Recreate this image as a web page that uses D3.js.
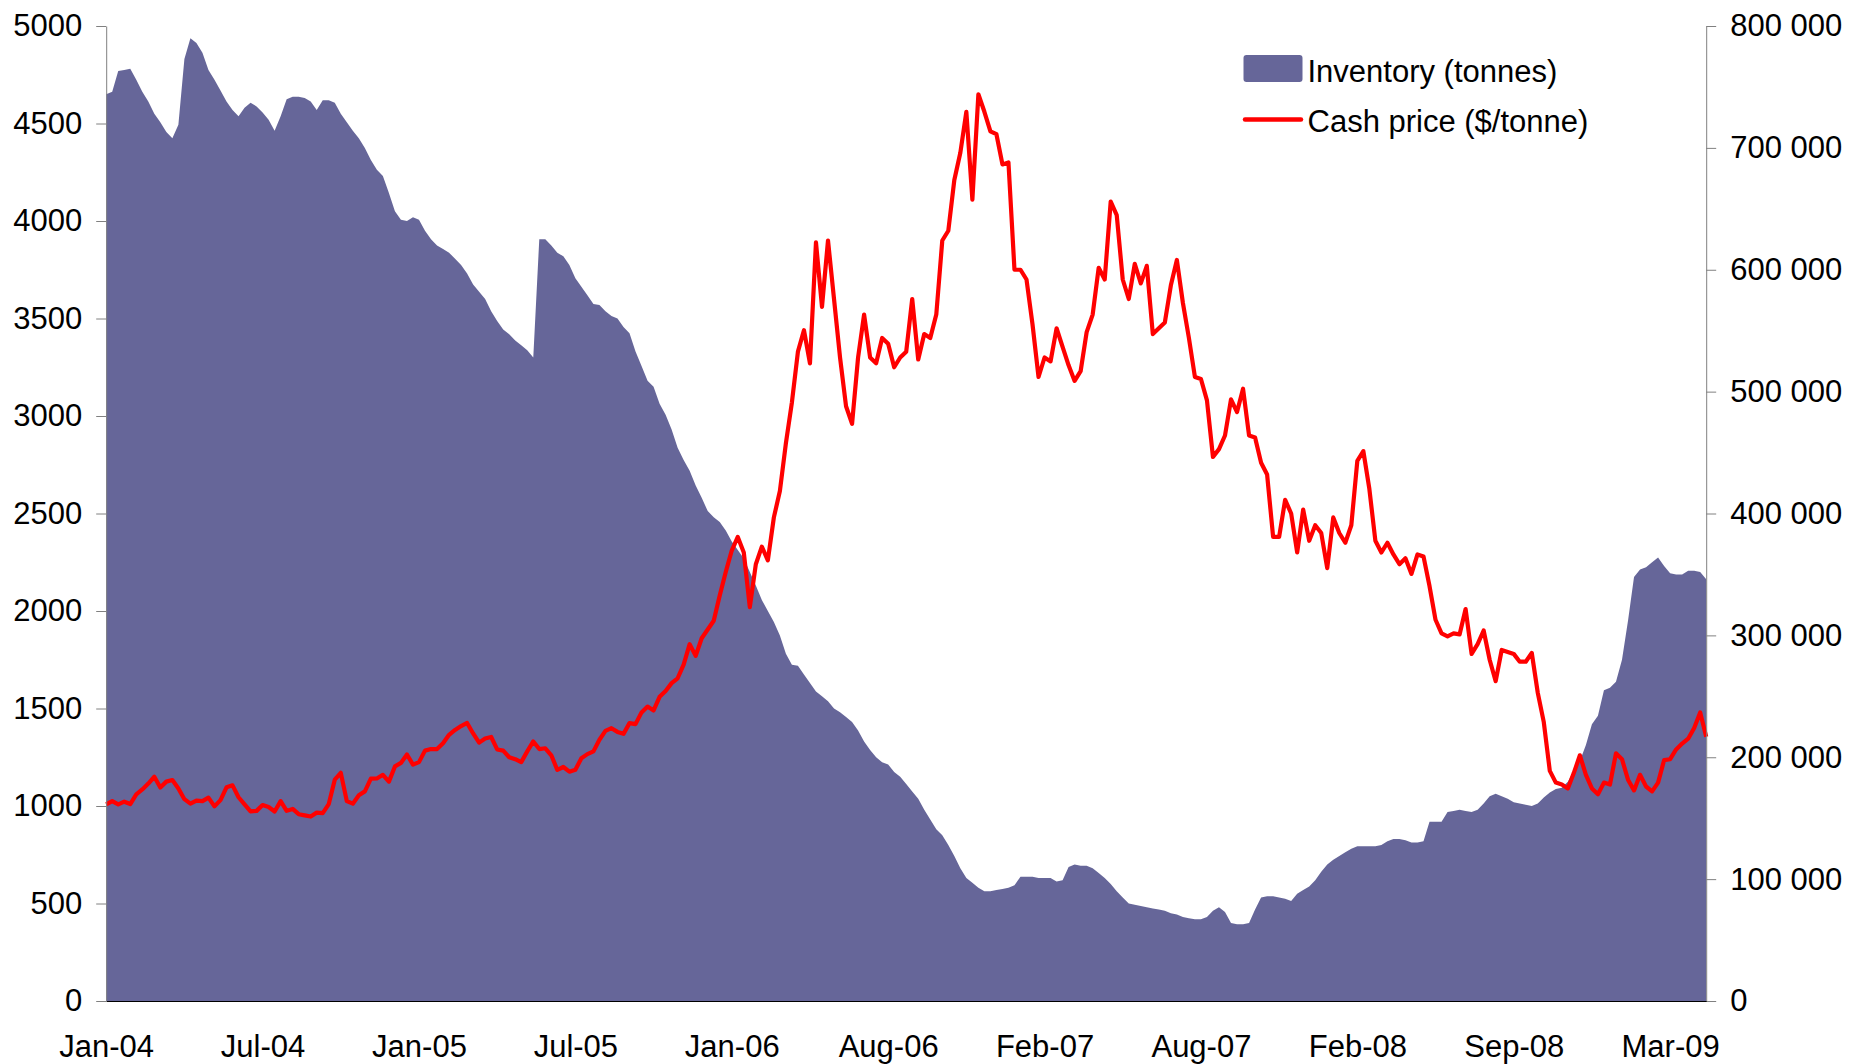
<!DOCTYPE html>
<html>
<head>
<meta charset="utf-8">
<script src="https://cdn.jsdelivr.net/npm/d3@7"></script>
<style>
  body { margin: 0; background: #fff; }
  text { font-family: "Liberation Sans", Arial, sans-serif; }
</style>
</head>
<body>
<script>
// x axis: category axis of trading days, a label every 130 days
const tickLabels = ['Jan-04', 'Jul-04', 'Jan-05', 'Jul-05', 'Jan-06', 'Aug-06', 'Feb-07', 'Aug-07', 'Feb-08', 'Sep-08', 'Mar-09'];
const labelStep = 130;
const sampleStep = 5; // values below are read every 5 trading days

const legendItems = ['Inventory (tonnes)', 'Cash price ($/tonne)'];

// inventory, thousand tonnes (right axis)
const inventoryKt = [
  744, 746, 763, 764, 765, 756, 746, 738, 728, 721,
  713, 708, 719, 773, 790, 786, 778, 764, 756, 747,
  738, 731, 726, 733, 737, 734, 729, 723, 714, 726,
  740, 742, 742, 741, 738, 731, 739, 739, 737, 728,
  721, 714, 708, 700, 690, 682, 677, 663, 648, 641,
  640, 643, 641, 632, 625, 620, 617, 614, 609, 604,
  597, 588, 582, 576, 566, 558, 551, 547, 542, 538,
  534, 528, 625, 625, 620, 614, 611, 604, 593, 586,
  579, 572, 571, 566, 562, 560, 553, 548, 533, 521,
  509, 504, 490, 481, 469, 454, 444, 435, 423, 413,
  402, 397, 393, 386, 377, 370, 363, 352, 341, 329,
  320, 311, 300, 285, 276, 275, 268, 261, 254, 250,
  246, 240, 237, 233, 229, 222, 213, 206, 200, 196,
  194, 188, 184, 178, 172, 166, 157, 149, 141, 136,
  128, 119, 109, 101, 97, 93, 90, 90, 91, 92,
  93, 95, 102, 102, 102, 101, 101, 101, 98, 99,
  110, 112, 111, 111, 109, 105, 101, 96, 90, 85,
  80, 79, 78, 77, 76, 75, 74, 72, 71, 69,
  68, 67, 67, 69, 74, 77, 73, 64, 63, 63,
  64, 75, 85, 86, 86, 85, 84, 82, 88, 91,
  94, 99, 106, 112, 116, 119, 122, 125, 127, 127,
  127, 127, 128, 131, 133, 133, 132, 130, 130, 131,
  147, 147, 147, 155, 156, 157, 156, 155, 157, 162,
  168, 170, 168, 166, 163, 162, 161, 160, 162, 167,
  171, 174, 175, 180, 189, 197, 210, 227, 234, 255,
  257, 262, 280, 312, 348, 354, 356, 360, 364, 357,
  351, 350, 350, 353, 353, 352, 346
];

// cash price, $/tonne (left axis)
const cashPrice = [
  1008, 1025, 1008, 1022, 1010, 1060, 1085, 1115, 1150, 1095,
  1125, 1133, 1090, 1035, 1012, 1028, 1025, 1043, 998, 1030,
  1096, 1106, 1045, 1008, 972, 975, 1005, 995, 972, 1025,
  975, 985, 958, 952, 946, 966, 963, 1010, 1135, 1170,
  1025, 1012, 1055, 1075, 1140, 1141, 1160, 1125, 1203, 1221,
  1264, 1212, 1225, 1284, 1292, 1292, 1322, 1365, 1390, 1410,
  1426, 1372, 1325, 1346, 1354, 1290, 1284, 1250, 1240, 1225,
  1280, 1331, 1292, 1296, 1260, 1185, 1200, 1176, 1186, 1245,
  1266, 1280, 1340, 1385, 1399, 1380, 1370, 1425, 1420, 1480,
  1510, 1490, 1560, 1590, 1630, 1655, 1725, 1830, 1770, 1860,
  1905, 1950, 2080, 2200, 2310, 2380, 2300, 2020, 2240, 2330,
  2260, 2480, 2615, 2860, 3070, 3330, 3440, 3270, 3890, 3560,
  3900, 3600, 3300, 3050, 2960, 3300, 3520, 3300, 3270, 3400,
  3370, 3250, 3300, 3330, 3600, 3290, 3420, 3400, 3520, 3900,
  3950, 4210, 4350, 4560, 4110, 4650, 4560, 4460, 4445, 4290,
  4300, 3750, 3750, 3700, 3470, 3200, 3300, 3280, 3450, 3355,
  3260, 3180, 3230, 3430, 3520, 3760, 3700, 4100, 4030, 3700,
  3600, 3780, 3680, 3770, 3420, 3450, 3480, 3670, 3800, 3580,
  3400, 3200, 3190, 3080, 2790, 2830, 2900, 3085, 3020, 3140,
  2900, 2890, 2760, 2700, 2380, 2380, 2570, 2500, 2300, 2520,
  2360, 2440, 2400, 2220, 2480, 2400, 2350, 2440, 2770, 2820,
  2626, 2360, 2300, 2350, 2290, 2240, 2270, 2190, 2290, 2280,
  2128, 1955, 1885, 1870, 1885, 1880, 2010, 1780, 1830, 1900,
  1750, 1640, 1800, 1790, 1780, 1740, 1740, 1785, 1580, 1430,
  1180, 1120, 1110, 1090, 1170, 1260, 1160, 1090, 1060, 1120,
  1110, 1270, 1240, 1135, 1080, 1160, 1100, 1075, 1120, 1235,
  1240, 1290, 1320, 1345, 1400, 1480, 1355
];

const w = 1850;
const h = 1064;
const plotLeft = 106.2;
const plotRight = 1706.2;
const plotTop = 26;
const plotBottom = 1001;

const lastDay = (cashPrice.length - 1) * sampleStep;

const xScale = d3.scaleLinear()
                 .domain([0, lastDay])
                 .range([plotLeft, plotRight]);

const yPrice = d3.scaleLinear()
                 .domain([0, 5000])
                 .range([plotBottom, plotTop]);

const yInv = d3.scaleLinear()
               .domain([0, 800])
               .range([plotBottom, plotTop]);

const svg = d3.select('body')
              .append('svg')
              .attr('width', w)
              .attr('height', h);

// inventory area
const area = d3.area()
               .x((d, i) => xScale(i * sampleStep))
               .y0(yInv(0))
               .y1((d) => yInv(d));

svg.append('path')
   .datum(inventoryKt)
   .attr('fill', '#666699')
   .attr('d', area);

// cash price line
const line = d3.line()
               .x((d, i) => xScale(i * sampleStep))
               .y((d) => yPrice(d));

svg.append('path')
   .datum(cashPrice)
   .attr('fill', 'none')
   .attr('stroke', '#ff0000')
   .attr('stroke-width', 4.2)
   .attr('stroke-linejoin', 'round')
   .attr('d', line);

// axes
const leftAxis = d3.axisLeft(yPrice)
                   .tickValues(d3.range(0, 5001, 500))
                   .tickFormat(d3.format('d'))
                   .tickSize(10)
                   .tickPadding(14)
                   .tickSizeOuter(0);

const rightAxis = d3.axisRight(yInv)
                    .tickValues(d3.range(0, 801, 100))
                    .tickFormat((d) => d === 0 ? '0' : d + ' 000')
                    .tickSize(10)
                    .tickPadding(14)
                    .tickSizeOuter(0);

const xAxis = d3.axisBottom(xScale)
                .tickValues(tickLabels.map((d, i) => i * labelStep))
                .tickFormat((d, i) => tickLabels[i])
                .tickSize(0)
                .tickPadding(34)
                .tickSizeOuter(0);

const gLeft = svg.append('g')
                 .attr('transform', 'translate(' + plotLeft + ',0)')
                 .call(leftAxis);

const gRight = svg.append('g')
                  .attr('transform', 'translate(' + plotRight + ',0)')
                  .call(rightAxis);

const gX = svg.append('g')
              .attr('transform', 'translate(0,' + plotBottom + ')')
              .call(xAxis);

[gLeft, gRight].forEach((g) => {
  g.select('.domain').attr('stroke', '#808080');
  g.selectAll('.tick line').attr('stroke', '#808080');
});
gX.select('.domain').attr('stroke', '#000');

svg.selectAll('.tick text')
   .attr('fill', '#000')
   .style('font-size', '31px');

// legend
const legend = svg.append('g');

legend.append('rect')
      .attr('x', 1243.5)
      .attr('y', 55)
      .attr('width', 59)
      .attr('height', 27)
      .attr('rx', 3)
      .attr('fill', '#666699');

legend.append('line')
      .attr('x1', 1245)
      .attr('x2', 1301)
      .attr('y1', 119.5)
      .attr('y2', 119.5)
      .attr('stroke', '#ff0000')
      .attr('stroke-width', 4.5)
      .attr('stroke-linecap', 'round');

legend.selectAll('text')
      .data(legendItems)
      .enter()
      .append('text')
      .attr('x', 1307.5)
      .attr('y', (d, i) => 82.3 + i * 49.2)
      .style('font-size', '31px')
      .attr('fill', '#000')
      .text((d) => d);
</script>
</body>
</html>
